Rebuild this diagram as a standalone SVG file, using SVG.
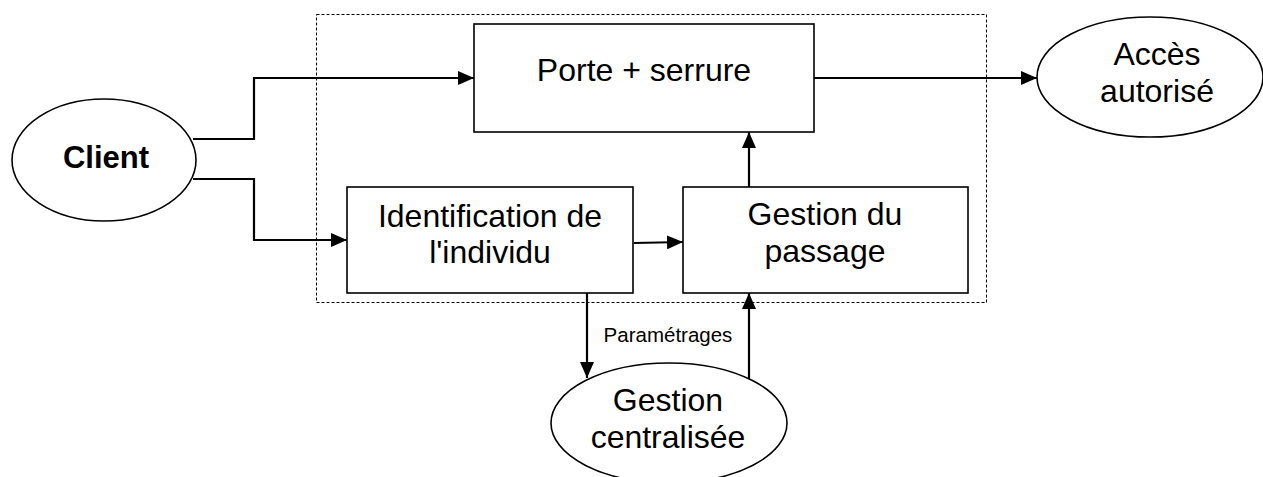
<svg xmlns="http://www.w3.org/2000/svg" width="1263" height="477" viewBox="0 0 1263 477">
<defs>
<marker id="arr" viewBox="0 0 16 14" refX="16" refY="7" markerWidth="16" markerHeight="14" markerUnits="userSpaceOnUse" orient="auto">
<path d="M0,0 L16,7 L0,14 Z" fill="#000"/>
</marker>
<style>
.box{fill:#fff;stroke:#000;stroke-width:1.6}
.ell{fill:#fff;stroke:#000;stroke-width:1.6}
.con{fill:none;stroke:#000;stroke-width:2.2}
.t{font-family:"Liberation Sans",Arial,sans-serif;font-size:32px;fill:#000;text-anchor:middle}
.b{font-weight:bold;font-size:31px}
.s{font-family:"Liberation Sans",Arial,sans-serif;font-size:20.5px;fill:#000;text-anchor:middle}
</style>
</defs>
<rect width="1263" height="477" fill="#fff"/>
<rect id="boundary" x="316.5" y="14.5" width="670" height="288" fill="none" stroke="#000" stroke-width="1" stroke-dasharray="3,2"/>
<g id="connectors">
<polyline class="con" points="193,139 254,139 254,78 474,78" marker-end="url(#arr)"/>
<polyline class="con" points="193,179 254,179 254,240 347,240" marker-end="url(#arr)"/>
<line class="con" x1="814" y1="78" x2="1037" y2="78" marker-end="url(#arr)"/>
<line class="con" x1="634" y1="243" x2="683" y2="242" marker-end="url(#arr)"/>
<line class="con" x1="749" y1="187" x2="749" y2="132" marker-end="url(#arr)"/>
<line class="con" x1="587" y1="293" x2="587" y2="378" marker-end="url(#arr)"/>
<line class="con" x1="749" y1="379" x2="749" y2="293" marker-end="url(#arr)"/>
<text class="s" x="668" y="342">Paramétrages</text>
</g>
<g id="client">
<ellipse class="ell" cx="104" cy="160" rx="92" ry="61"/>
<text class="t b" x="106" y="168">Client</text>
</g>
<g id="porte">
<rect class="box" x="474" y="24" width="340" height="108"/>
<text class="t" x="644" y="81">Porte + serrure</text>
</g>
<g id="identification">
<rect class="box" x="347" y="187" width="286" height="106"/>
<text class="t" x="490" y="227">Identification de</text>
<text class="t" x="490" y="263">l'individu</text>
</g>
<g id="gestion-passage">
<rect class="box" x="683" y="187" width="285" height="106"/>
<text class="t" x="825" y="225">Gestion du</text>
<text class="t" x="825" y="262">passage</text>
</g>
<g id="acces">
<ellipse class="ell" cx="1150" cy="77" rx="113" ry="60"/>
<text class="t" x="1157" y="65">Accès</text>
<text class="t" x="1157" y="102">autorisé</text>
</g>
<g id="gestion-centralisee">
<ellipse class="ell" cx="669" cy="423" rx="118" ry="60"/>
<text class="t" x="668" y="411">Gestion</text>
<text class="t" x="668" y="448">centralisée</text>
</g>
</svg>
